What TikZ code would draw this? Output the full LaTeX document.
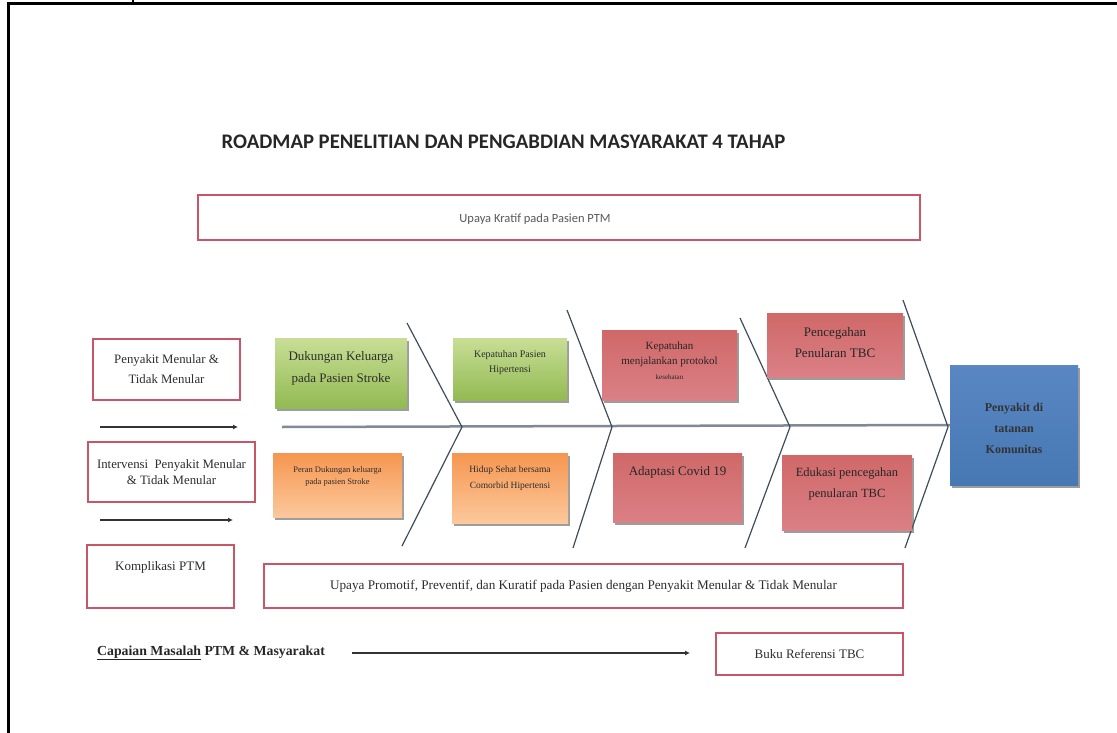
\documentclass[tikz,border=0pt]{standalone}
\usepackage{fontspec}
\setmainfont{Liberation Serif}
\newfontfamily\carlito{Carlito}
\usetikzlibrary{shadows,arrows.meta}
\definecolor{frameRed}{RGB}{200,86,102}
\definecolor{boneCol}{RGB}{62,76,92}
\definecolor{spineCol}{RGB}{128,138,150}
\definecolor{gTop}{RGB}{200,222,150}
\definecolor{gBot}{RGB}{146,186,82}
\definecolor{rTop}{RGB}{208,104,104}
\definecolor{rMid}{RGB}{186,58,60}
\definecolor{rBot}{RGB}{218,128,134}
\definecolor{oTop}{RGB}{246,150,80}
\definecolor{oMid}{RGB}{248,160,90}
\definecolor{oBot}{RGB}{252,200,156}
\definecolor{bTop}{RGB}{90,135,195}
\definecolor{bMid}{RGB}{135,170,215}
\definecolor{bBot}{RGB}{70,120,180}
\definecolor{txtGrey}{RGB}{45,45,45}
\tikzset{
  redframe/.style={draw=frameRed, line width=2pt, fill=white, inner sep=0pt},
  fishbox/.style={inner sep=0pt, drop shadow={shadow xshift=1.5pt, shadow yshift=-3pt, fill=black!70, opacity=.55}},
  greenbox/.style={fishbox, top color=gTop, bottom color=gBot},
  redbox/.style={fishbox, top color=rTop, middle color=rMid, bottom color=rBot},
  orangebox/.style={fishbox, top color=oTop, middle color=oMid, bottom color=oBot},
  bluebox/.style={fishbox, top color=bTop, middle color=bMid, bottom color=bBot},
  boxtext/.style={align=center, inner sep=0pt, text=txtGrey},
  bone/.style={draw=boneCol, line width=1.2pt},
  spine/.style={draw=spineCol, line width=2.5pt},
  smallarrow/.style={draw=black!80, line width=1.2pt, -{Latex[length=5pt,width=5pt]}},
}
\begin{document}
\begin{tikzpicture}[x=1pt,y=-1pt]
\useasboundingbox (0,0) rectangle (1117,733);
% outer frame
\coordinate (fbl) at (8,733);
\coordinate (ftl) at (8,4);
\coordinate (ftr) at (1117,4);
\draw[line width=3pt, black] (fbl) -- (ftl) -- (ftr);
\coordinate (tick1) at (133,0);
\coordinate (tick2) at (133,4);
\draw[line width=2pt, black] (tick1) -- (tick2);

% title
\node[font=\carlito\bfseries\fontsize{20.7}{24}\selectfont, text=black!85, inner sep=0pt] (title) at (503.5,142) {ROADMAP PENELITIAN DAN PENGABDIAN MASYARAKAT 4 TAHAP};

% top box
\node[redframe, minimum width=722pt, minimum height=45pt] (top) at (559,217.5) {};
\node[font=\carlito\fontsize{12.5}{14}\selectfont, text=black!65, inner sep=0pt] (topt) at ([xshift=-24pt,yshift=-2pt]top.center) {Upaya Kratif pada Pasien PTM};

% fishbone spine and bones
\node[bluebox, minimum width=128pt, minimum height=120pt] (head) at (1014,425) {};
\node[boxtext, font=\bfseries\fontsize{12}{21}\selectfont, text=black!80] (headt) at ([yshift=-3pt]head.center) {Penyakit di\\tatanan\\Komunitas};
\coordinate (spineS) at (282,427);
\draw[spine] (spineS) -- (head.west);

\coordinate (c1t) at (407,323); \coordinate (c1m) at (462,427); \coordinate (c1b) at (402,546);
\coordinate (c2t) at (567,310); \coordinate (c2m) at (612,427); \coordinate (c2b) at (573,548);
\coordinate (c3t) at (740,318); \coordinate (c3m) at (790,427); \coordinate (c3b) at (745,548);
\coordinate (c4t) at (903,300); \coordinate (c4m) at (948,427); \coordinate (c4b) at (905,548);
\draw[bone] (c1t) -- (c1m) -- (c1b);
\draw[bone] (c2t) -- (c2m) -- (c2b);
\draw[bone] (c3t) -- (c3m) -- (c3b);
\draw[bone] (c4t) -- (c4m) -- (c4b);

% left column boxes
\node[redframe, minimum width=147pt, minimum height=61pt, boxtext, font=\fontsize{12.8}{20}\selectfont] (pm) at (166.5,369.5) {Penyakit Menular \&\\Tidak Menular};
\node[redframe, minimum width=167pt, minimum height=60pt, boxtext, font=\fontsize{12.8}{16}\selectfont] (ipm) at (171.5,472) {Intervensi\ \ Penyakit Menular\\\& Tidak Menular};
\node[redframe, minimum width=147pt, minimum height=63pt] (kom) at (160.5,576.5) {};
\node[boxtext, font=\fontsize{13}{16}\selectfont] (komt) at ([yshift=9.5pt]kom.center) {Komplikasi PTM};

% small arrows
\coordinate (a1s) at (100,427); \coordinate (a1e) at (238,427);
\coordinate (a2s) at (100,520); \coordinate (a2e) at (233,520);
\draw[smallarrow] (a1s) -- (a1e);
\draw[smallarrow] (a2s) -- (a2e);

% green boxes
\node[greenbox, minimum width=132pt, minimum height=70pt] (g1) at (341,373) {};
\node[boxtext, font=\fontsize{13}{22}\selectfont] (g1t) at ([yshift=5pt]g1.center) {Dukungan Keluarga\\pada Pasien Stroke};
\node[greenbox, minimum width=114pt, minimum height=62pt] (g2) at (510,369) {};
\node[boxtext, font=\fontsize{10}{15}\selectfont] (g2t) at ([yshift=6.5pt]g2.center) {Kepatuhan Pasien\\Hipertensi};

% red boxes
\node[redbox, minimum width=135pt, minimum height=70pt] (r1) at (669.5,365) {};
\node[boxtext, font=\fontsize{11}{15}\selectfont, text=black!85] (r1t) at ([yshift=4pt]r1.center) {Kepatuhan\\menjalankan protokol\\{\fontsize{7}{9}\selectfont kesehatan}};
\node[redbox, minimum width=136pt, minimum height=64pt] (r2) at (835,345) {};
\node[boxtext, font=\fontsize{13}{21}\selectfont, text=black!85] (r2t) at ([yshift=2.5pt]r2.center) {Pencegahan\\Penularan TBC};
\node[redbox, minimum width=129pt, minimum height=69pt] (r3) at (677.5,487.5) {};
\node[boxtext, font=\fontsize{13}{16}\selectfont, text=black!85] (r3t) at ([yshift=15.5pt]r3.center) {Adaptasi Covid 19};
\node[redbox, minimum width=130pt, minimum height=75pt] (r4) at (847,492.5) {};
\node[boxtext, font=\fontsize{12.5}{21}\selectfont, text=black!85] (r4t) at ([yshift=9pt]r4.center) {Edukasi pencegahan\\penularan TBC};

% orange boxes
\node[orangebox, minimum width=129pt, minimum height=64pt] (o1) at (337.5,485) {};
\node[boxtext, font=\fontsize{8.5}{12}\selectfont] (o1t) at ([yshift=9pt]o1.center) {Peran Dukungan keluarga\\pada pasien Stroke};
\node[orangebox, minimum width=116pt, minimum height=70pt] (o2) at (510,488) {};
\node[boxtext, font=\fontsize{9.5}{16}\selectfont] (o2t) at ([yshift=9.5pt]o2.center) {Hidup Sehat bersama\\Comorbid Hipertensi};

% bottom box
\node[redframe, minimum width=639pt, minimum height=44pt, boxtext, font=\fontsize{13.2}{15}\selectfont] (bot) at (583.5,586) {Upaya Promotif, Preventif, dan Kuratif pada Pasien dengan Penyakit Menular \& Tidak Menular};

% capaian line
\node[anchor=west, inner sep=0pt, font=\bfseries\fontsize{13.8}{16}\selectfont, text=black!85] (cap) at (97,653) {\underline{Capaian Masalah} PTM \& Masyarakat};
\node[redframe, minimum width=187pt, minimum height=42pt, boxtext, font=\fontsize{13}{16}\selectfont] (buku) at (809.5,654) {Buku Referensi TBC};
\coordinate (a3s) at (352,653); \coordinate (a3e) at (690,653);
\draw[smallarrow] (a3s) -- (a3e);
\end{tikzpicture}
\end{document}
